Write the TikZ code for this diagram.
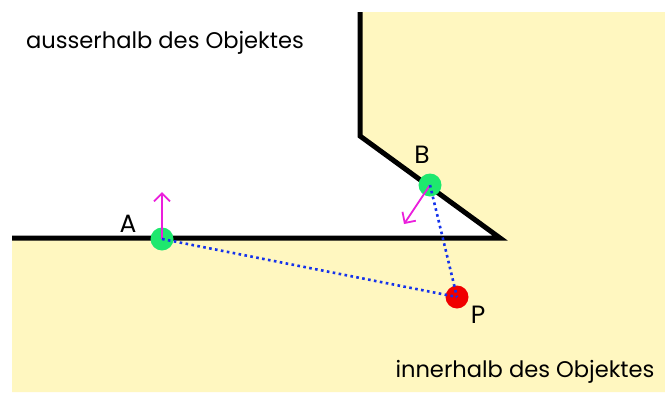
\documentclass[tikz,border=0pt]{standalone}
\usepackage{fontspec}
\setmainfont{Poppins}
\usetikzlibrary{arrows.meta}
\definecolor{bgyellow}{RGB}{255,247,192}
\definecolor{ptgreen}{RGB}{30,232,110}
\definecolor{ptred}{RGB}{240,0,0}
\definecolor{arrmag}{RGB}{235,30,220}
\definecolor{dotblue}{RGB}{20,50,235}
\tikzset{
  edge/.style={line width=5pt, line join=miter},
  ptdot/.style={circle, inner sep=0pt, minimum size=23pt},
  normal/.style={draw=arrmag, line width=1.8pt, -{Straight Barb[length=8pt, width=16pt, line width=1.8pt]}},
  dist/.style={draw=dotblue, line width=2.6pt, dash pattern=on 2.6pt off 3.4pt},
  lbl/.style={font=\fontsize{22.6}{26}\selectfont, inner sep=0pt},
  ptlbl/.style={font=\fontsize{25}{28}\selectfont, inner sep=0pt}
}
\begin{document}
\begin{tikzpicture}[x=1pt, y=-1pt]
\useasboundingbox (0,0) rectangle (665,394);
\fill[white] (0,0) rectangle (665,394);
\fill[bgyellow] (12,238) -- (500,238) -- (360,136) -- (360,12) -- (665,12) -- (665,392) -- (12,392) -- cycle;
\coordinate (h0) at (12,238);
\coordinate (c1) at (500,238);
\coordinate (c2) at (360,136);
\coordinate (c3) at (360,12);
\draw[edge] (h0) -- (c1) -- (c2) -- (c3);
\node[lbl] (out) at (165,43) {ausserhalb des Objektes};
\node[lbl] (in) at (525,372) {innerhalb des Objektes};
\node[ptdot, fill=ptgreen] (A) at (162,239) {};
\node[ptdot, fill=ptgreen] (B) at (430,185) {};
\node[ptdot, fill=ptred] (P) at (457,297) {};
\node[ptlbl] (la) at (128,224) {A};
\node[ptlbl] (lb) at (422,155) {B};
\node[ptlbl] (lp) at (478,315) {P};
\coordinate (na) at (162,192);
\coordinate (nb) at (404,224);
\draw[normal] (A.center) -- (na);
\draw[normal] (B.center) -- (nb);
\draw[dist] (A.center) -- (P.center);
\draw[dist] (B.center) -- (P.center);
\end{tikzpicture}
\end{document}
